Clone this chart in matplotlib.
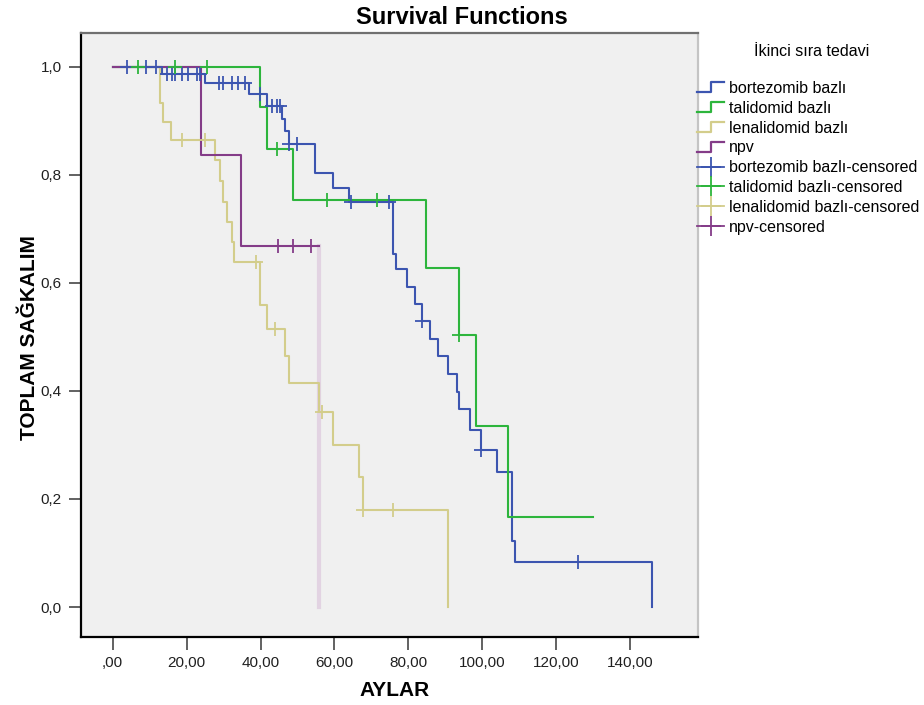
import matplotlib
matplotlib.use("Agg")
import matplotlib.pyplot as plt
from matplotlib.lines import Line2D
from matplotlib.legend_handler import HandlerBase
import numpy as np

plt.rcParams['font.family'] = ['Liberation Sans', 'DejaVu Sans']

# ---------------- data ----------------
group_names = ["bortezomib bazlı", "talidomid bazlı", "lenalidomid bazlı", "npv"]

bort_times = [13.3, 25.0, 36.9, 41.7, 45.7, 46.6, 47.7, 54.8, 59.5, 64.0, 75.8, 76.7, 79.6,
              81.8, 83.6, 85.9, 88.0, 90.7, 93.1, 93.8, 96.7, 99.7, 103.9, 108.0, 108.9, 146.0]
bort_surv = [0.986, 0.969, 0.949, 0.927, 0.903, 0.881, 0.857, 0.803, 0.775, 0.749, 0.654, 0.625,
             0.592, 0.560, 0.529, 0.496, 0.464, 0.431, 0.398, 0.366, 0.328, 0.291, 0.250, 0.123,
             0.083, 0.0]
bort_end = 146.0
bort_cens = [3.8, 8.9, 11.7, 14.6, 16.0, 16.9, 18.7, 20.5, 22.7, 23.6, 28.8, 29.8, 32.2, 34.0,
             35.8, 39.9, 43.0, 44.4, 45.3, 47.8, 49.8, 64.4, 74.9, 83.6, 99.7, 125.8]

tali_times = [39.9, 41.7, 48.7, 84.8, 93.7, 98.2, 107.0]
tali_surv = [0.926, 0.847, 0.753, 0.628, 0.503, 0.334, 0.167]
tali_end = 129.9
tali_cens = [6.8, 16.8, 25.4, 44.4, 57.9, 71.4, 93.7]

lena_times = [12.8, 13.7, 15.7, 27.7, 28.9, 29.9, 31.0, 32.2, 32.8, 39.9, 41.7, 46.6, 47.7,
              55.9, 59.7, 66.7, 67.7, 90.8]
lena_surv = [0.932, 0.898, 0.864, 0.827, 0.789, 0.750, 0.713, 0.675, 0.639, 0.559, 0.514,
             0.464, 0.414, 0.361, 0.299, 0.241, 0.180, 0.0]
lena_end = 90.8
lena_cens = [18.8, 25.0, 38.8, 43.9, 56.6, 67.7, 75.8]

npv_times = [23.8, 34.7, 55.9]
npv_surv = [0.836, 0.668, 0.0]
npv_end = 55.9
npv_cens = [44.7, 48.7, 53.7]

x_ticks = [0, 20, 40, 60, 80, 100, 120, 140]
x_tick_labels = [",00", "20,00", "40,00", "60,00", "80,00", "100,00", "120,00", "140,00"]
y_ticks = [0.0, 0.2, 0.4, 0.6, 0.8, 1.0]
y_tick_labels = ["0,0", "0,2", "0,4", "0,6", "0,8", "1,0"]

colors = ["#3c55b0", "#2db53c", "#d3cd8b", "#843c88"]
npv_last_color = "#e2d3e2"

# ---------------- figure ----------------
W, H = 924, 705
fig = plt.figure(figsize=(W / 100, H / 100), dpi=100)
fig.patch.set_facecolor("white")
ax = fig.add_axes([81 / W, (H - 637) / H, (697.7 - 81) / W, (637 - 33.3) / H])
ax.set_facecolor("#f0f0f0")


def surv_at(times, surv, t):
    s = 1.0
    for ti, si in zip(times, surv):
        if t >= ti:
            s = si
    return s


def draw_curve(times, surv, end, cens, color, split_last=False, last_color=None):
    xs = [0.0] + list(times)
    ys = [1.0] + list(surv)
    if split_last:
        ax.step(xs[:-1] + [xs[-1]], ys[:-1] + [ys[-2]], where="post", color=color, lw=1.5, zorder=3)
        ax.plot([xs[-1], xs[-1]], [ys[-2], ys[-1]], color=last_color, lw=3, zorder=2)
    else:
        ax.step(xs + [end], ys + [ys[-1]], where="post", color=color, lw=1.5, zorder=3)
    cy = [surv_at(times, surv, t) for t in cens]
    ax.plot(cens, cy, linestyle="none", marker="+", markersize=10, mew=1.3, color=color, zorder=4)


draw_curve(bort_times, bort_surv, bort_end, bort_cens, colors[0])
draw_curve(tali_times, tali_surv, tali_end, tali_cens, colors[1])
draw_curve(lena_times, lena_surv, lena_end, lena_cens, colors[2])
draw_curve(npv_times, npv_surv, npv_end, npv_cens, colors[3], split_last=True, last_color=npv_last_color)

ax.set_xlim(-8.58, 158.3)
ax.set_ylim(-0.0555, 1.0615)
ax.set_xticks(x_ticks)
ax.set_xticklabels(x_tick_labels, fontsize=11, color="#202020")
ax.set_yticks(y_ticks)
ax.set_yticklabels(y_tick_labels, fontsize=11, color="#202020")
ax.tick_params(axis="both", direction="out", length=9, width=1.3, color="#555555", pad=5)

ax.spines["left"].set_color("black")
ax.spines["bottom"].set_color("black")
ax.spines["top"].set_color("#707070")
ax.spines["right"].set_color("#c4c4c4")
for s in ax.spines.values():
    s.set_linewidth(1.6)

fig.text(395 / W, 1 - 690 / H, "AYLAR", ha="center", va="center", fontsize=15, fontweight="bold")
fig.text(30 / W, 1 - 338 / H, "TOPLAM SAĞKALIM", ha="center", va="center", rotation=90,
         fontsize=15, fontweight="bold")
fig.text(0.5, 1 - 17 / H, "Survival Functions", ha="center", va="center",
         fontsize=17, fontweight="bold")


# ---------------- legend ----------------
class StepHandler(HandlerBase):
    def create_artists(self, legend, orig_handle, xdescent, ydescent, width, height, fontsize, trans):
        x0 = -xdescent
        y0 = -ydescent
        xs = [x0, x0 + width * 0.5, x0 + width * 0.5, x0 + width]
        ys = [y0 + height * 0.05, y0 + height * 0.05, y0 + height * 0.95, y0 + height * 0.95]
        ln = Line2D(xs, ys, color=orig_handle.get_color(), lw=orig_handle.get_linewidth())
        ln.set_transform(trans)
        return [ln]


fig.text(812 / W, 1 - 52 / H, "İkinci sıra tedavi", ha="center", va="center", fontsize=11.5)

step_handles = [Line2D([], [], color=c, lw=1.6) for c in colors]
cens_handles = [Line2D([], [], color=c, lw=1.3, marker="+", markersize=14, mew=1.3) for c in colors]
handles = step_handles + cens_handles
labels = group_names + [g + "-censored" for g in group_names]
handler_map = {h: StepHandler() for h in step_handles}
leg = fig.legend(handles, labels, loc="upper left", bbox_to_anchor=(697 / W, 1 - 81 / H),
                 frameon=False, fontsize=11.5,
                 handlelength=1.7, handletextpad=0.3, labelspacing=0.3, handler_map=handler_map,
                 borderaxespad=0.0, borderpad=0.0)

fig.savefig("out.png", dpi=100)
